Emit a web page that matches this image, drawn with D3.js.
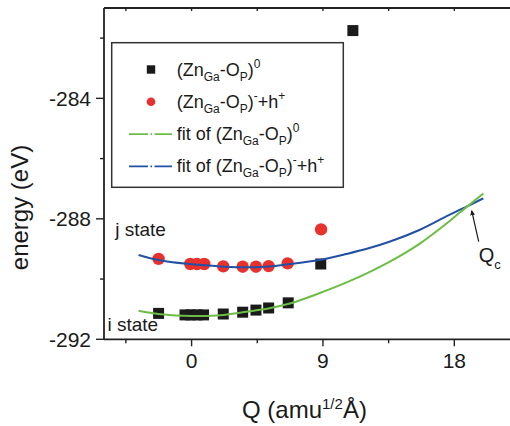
<!DOCTYPE html>
<html>

<head>
  <meta charset="UTF-8" />
  <title>Configuration coordinate diagram</title>
  <style>
    html, body {
      margin: 0;
      padding: 0;
      background: white;
    }

    svg text {
      font-family: "Liberation Sans", Arial, Helvetica, sans-serif;
      fill: #1a1a1a;
    }
  </style>
  <script src="https://d3js.org/d3.v7.min.js"></script>
</head>

<body>
  <script>
    /* data */
    let neutralQ = [-2.26, -0.45, -0.05, 0.37, 0.82, 2.17, 3.5, 4.41, 5.28, 6.62, 8.85, 11.05];
    let neutralE = [-291.14, -291.19, -291.19, -291.19, -291.19, -291.16, -291.10, -291.03, -290.96, -290.79, -289.50, -281.75];

    let chargedQ = [-2.26, -0.09, 0.37, 0.87, 2.17, 3.5, 4.41, 5.28, 6.58, 8.87];
    let chargedE = [-289.33, -289.50, -289.50, -289.50, -289.58, -289.59, -289.59, -289.57, -289.48, -288.35];

    let fitQ = [-3.63, -2.26, 0, 2.0, 3.5, 5.33, 6.6, 8.75, 10.58, 12.18, 13.55, 15.61, 17.66, 18.81, 19.99];
    let fitNeutralE = [-291.05, -291.16, -291.23, -291.20, -291.10, -290.97, -290.83, -290.47, -290.12, -289.77, -289.43, -288.83, -288.08, -287.62, -287.16];
    let fitChargedE = [-289.20, -289.37, -289.51, -289.58, -289.61, -289.58, -289.51, -289.37, -289.17, -288.97, -288.76, -288.37, -287.87, -287.60, -287.32];

    let xMajorTicks = [0, 9, 18];
    let xMinorTicks = [-4.5, 4.5, 13.5, 22.5];
    let yMajorTicks = [-292, -288, -284];
    let yMinorTicks = [-290, -286, -282];

    let colorNeutral = "#1a1a1a";
    let colorCharged = "#e8312c";
    let colorFitNeutral = "#6cbd45";
    let colorFitCharged = "#2150a6";

    let margin = { top: 8, right: 0, bottom: 87, left: 104 };
    let width = 416;
    let height = 331.3;

    let svg = d3.select("body")
      .append("svg")
      .attr("width", 510)
      .attr("height", 426);

    let xScale = d3.scaleLinear()
      .domain([-6, 22.5])
      .range([margin.left, margin.left + width]);

    let yScale = d3.scaleLinear()
      .domain([-292, -281])
      .range([margin.top + height, margin.top]);

    let x0 = xScale.range()[0];
    let y0 = yScale.range()[0];
    let yTop = yScale.range()[1];

    /* frame: left, bottom, top */
    let frame = svg.append("g")
      .attr("stroke", "#222")
      .attr("stroke-width", 1.8)
      .attr("fill", "none");
    frame.append("line").attr("x1", x0).attr("x2", x0).attr("y1", yTop).attr("y2", y0);
    frame.append("line").attr("x1", x0).attr("x2", 520).attr("y1", y0).attr("y2", y0);
    frame.append("line").attr("x1", x0).attr("x2", 520).attr("y1", yTop).attr("y2", yTop);

    /* x ticks */
    let ticks = svg.append("g")
      .attr("stroke", "#222")
      .attr("stroke-width", 1.4);
    ticks.selectAll(".xmaj")
      .data(xMajorTicks)
      .join("line")
      .attr("x1", d => xScale(d)).attr("x2", d => xScale(d))
      .attr("y1", y0).attr("y2", y0 + 7);
    ticks.selectAll(".xmin")
      .data(xMinorTicks)
      .join("line")
      .attr("x1", d => xScale(d)).attr("x2", d => xScale(d))
      .attr("y1", y0).attr("y2", y0 + 4);
    ticks.selectAll(".xtop")
      .data(xMajorTicks.concat(xMinorTicks))
      .join("line")
      .attr("x1", d => xScale(d)).attr("x2", d => xScale(d))
      .attr("y1", yTop).attr("y2", yTop + 3);

    /* y ticks */
    ticks.selectAll(".ymaj")
      .data(yMajorTicks)
      .join("line")
      .attr("x1", x0 - 8).attr("x2", x0)
      .attr("y1", d => yScale(d)).attr("y2", d => yScale(d));
    ticks.selectAll(".ymin")
      .data(yMinorTicks)
      .join("line")
      .attr("x1", x0 - 4).attr("x2", x0)
      .attr("y1", d => yScale(d)).attr("y2", d => yScale(d));

    /* tick labels */
    svg.append("g")
      .selectAll("text")
      .data(xMajorTicks)
      .join("text")
      .attr("x", d => xScale(d))
      .attr("y", y0 + 29)
      .attr("text-anchor", "middle")
      .style("font-size", "21px")
      .text(d => d);

    svg.append("g")
      .selectAll("text")
      .data(yMajorTicks)
      .join("text")
      .attr("x", x0 - 13)
      .attr("y", d => yScale(d) + 7.5)
      .attr("text-anchor", "end")
      .style("font-size", "21px")
      .text(d => d);

    /* axis titles */
    svg.append("text")
      .attr("transform", "translate(28, 207.5) rotate(-90)")
      .attr("text-anchor", "middle")
      .style("font-size", "24px")
      .text("energy (eV)");

    let xTitle = svg.append("text")
      .attr("x", 242)
      .attr("y", 418)
      .style("font-size", "24px");
    xTitle.append("tspan").text("Q (amu");
    xTitle.append("tspan").attr("dy", -9).style("font-size", "15px").text("1/2");
    xTitle.append("tspan").attr("dy", 9).text("Å)");

    /* fitted curves */
    let line = d3.line()
      .x(d => xScale(d[0]))
      .y(d => yScale(d[1]))
      .curve(d3.curveMonotoneX);

    /* markers */
    let neutral = neutralQ.map((q, i) => [q, neutralE[i]]);
    let charged = chargedQ.map((q, i) => [q, chargedE[i]]);

    svg.append("g")
      .selectAll("rect")
      .data(neutral)
      .join("rect")
      .attr("x", d => xScale(d[0]) - 5.5)
      .attr("y", d => yScale(d[1]) - 5.5)
      .attr("width", 11)
      .attr("height", 11)
      .attr("fill", colorNeutral);

    svg.append("g")
      .selectAll("circle")
      .data(charged)
      .join("circle")
      .attr("cx", d => xScale(d[0]))
      .attr("cy", d => yScale(d[1]))
      .attr("r", 6.2)
      .attr("fill", colorCharged);

    svg.append("path")
      .datum(fitQ.map((q, i) => [q, fitChargedE[i]]))
      .attr("d", line)
      .attr("fill", "none")
      .attr("stroke", colorFitCharged)
      .attr("stroke-width", 2);

    svg.append("path")
      .datum(fitQ.map((q, i) => [q, fitNeutralE[i]]))
      .attr("d", line)
      .attr("fill", "none")
      .attr("stroke", colorFitNeutral)
      .attr("stroke-width", 2);

    /* annotations */
    svg.append("text")
      .attr("x", xScale(-5.23))
      .attr("y", yScale(-288.57))
      .style("font-size", "19px")
      .text("j state");

    svg.append("text")
      .attr("x", xScale(-5.76))
      .attr("y", yScale(-291.71))
      .style("font-size", "19px")
      .text("i state");

    svg.append("defs")
      .append("marker")
      .attr("id", "arrow")
      .attr("viewBox", "0 0 10 10")
      .attr("refX", 9)
      .attr("refY", 5)
      .attr("markerWidth", 5)
      .attr("markerHeight", 5)
      .attr("markerUnits", "userSpaceOnUse")
      .attr("orient", "auto")
      .append("path")
      .attr("d", "M0,0 L10,5 L0,10 z")
      .attr("fill", "#1a1a1a");

    svg.append("line")
      .attr("x1", xScale(19.67))
      .attr("y1", yScale(-288.76))
      .attr("x2", xScale(19.19))
      .attr("y2", yScale(-287.73))
      .attr("stroke", "#1a1a1a")
      .attr("stroke-width", 1.2)
      .attr("marker-end", "url(#arrow)");

    let qc = svg.append("text")
      .attr("x", xScale(19.67))
      .attr("y", yScale(-289.42))
      .style("font-size", "20px");
    qc.append("tspan").text("Q");
    qc.append("tspan").attr("dy", 7).style("font-size", "13px").text("c");

    /* legend */
    let legend = svg.append("g");
    legend.append("rect")
      .attr("x", 111.7)
      .attr("y", 42.7)
      .attr("width", 231.6)
      .attr("height", 144.6)
      .attr("fill", "white")
      .attr("stroke", "#333")
      .attr("stroke-width", 1.5);

    /* formula parts: [text, shift] with shift 1 = subscript, -1 = superscript */
    let zno = [["(Zn", 0], ["Ga", 1], ["-O", 0], ["P", 1], [")", 0]];
    let legendItems = [
      { type: "square", color: colorNeutral, parts: zno.concat([["0", -1]]) },
      { type: "circle", color: colorCharged, parts: zno.concat([["-", -1], ["+h", 0], ["+", -1]]) },
      { type: "line", color: colorFitNeutral, parts: [["fit of ", 0]].concat(zno, [["0", -1]]) },
      { type: "line", color: colorFitCharged, parts: [["fit of ", 0]].concat(zno, [["-", -1], ["+h", 0], ["+", -1]]) }
    ];

    legendItems.forEach((item, i) => {
      let cy = 69.5 + i * 32.3;
      if (item.type === "square") {
        legend.append("rect")
          .attr("x", 151 - 4.2).attr("y", cy - 4.2)
          .attr("width", 8.4).attr("height", 8.4)
          .attr("fill", item.color);
      } else if (item.type === "circle") {
        legend.append("circle")
          .attr("cx", 151).attr("cy", cy)
          .attr("r", 4.3)
          .attr("fill", item.color);
      } else {
        legend.append("line")
          .attr("x1", 129).attr("x2", 172)
          .attr("y1", cy).attr("y2", cy)
          .attr("stroke", item.color)
          .attr("stroke-width", 1.6)
          .attr("stroke-dasharray", "19,2.5,1.5,2.5");
      }
      let t = legend.append("text")
        .attr("x", 176.7)
        .attr("y", cy + 6)
        .style("font-size", "18px");
      let shift = 0;
      item.parts.forEach(p => {
        let target = p[1] === 1 ? 5 : (p[1] === -1 ? -8 : 0);
        t.append("tspan")
          .attr("dy", target - shift)
          .style("font-size", p[1] === 0 ? "18px" : "12px")
          .text(p[0]);
        shift = target;
      });
    });
  </script>
</body>

</html>
